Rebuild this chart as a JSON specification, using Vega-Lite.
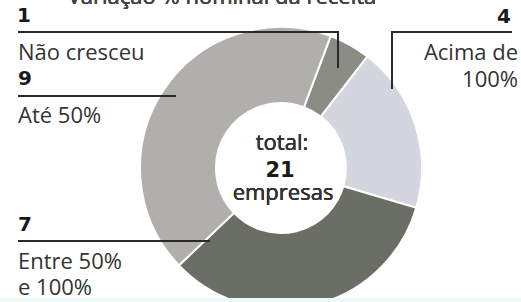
{
  "$schema": "https://vega.github.io/schema/vega-lite/v6.json",
  "width": 521,
  "height": 302,
  "autosize": {"type": "none"},
  "padding": 0,
  "background": "white",
  "view": {"stroke": null},
  "config": {"text": {"font": "Open Sans", "fontWeight": "normal", "color": "#333333"}},
  "datasets": {
    "cats": [
      {"cat": "Não cresceu", "n": 1, "order": 1, "label": ["Não cresceu"]},
      {"cat": "Acima de 100%", "n": 4, "order": 2, "label": ["Acima de", "100%"]},
      {"cat": "Entre 50% e 100%", "n": 7, "order": 3, "label": ["Entre 50%", "e 100%"]},
      {"cat": "Até 50%", "n": 9, "order": 4, "label": ["Até 50%"]}
    ]
  },
  "data": {"name": "cats"},
  "encoding": {
    "x": {"type": "quantitative", "scale": {"domain": [0, 521], "nice": false, "zero": false}, "axis": null},
    "y": {"type": "quantitative", "scale": {"domain": [0, 302], "nice": false, "zero": false, "reverse": true}, "axis": null}
  },
  "layer": [
    {
      "mark": {"type": "arc", "outerRadius": 141, "innerRadius": 65, "stroke": "white", "strokeWidth": 2},
      "encoding": {
        "x": {"datum": 281},
        "y": {"datum": 168},
        "theta": {"field": "n", "type": "quantitative", "stack": true, "scale": {"range": [0.36, 6.6432]}},
        "order": {"field": "order", "type": "quantitative"},
        "color": {"field": "cat", "type": "nominal", "legend": null,
          "scale": {"domain": ["Não cresceu", "Acima de 100%", "Entre 50% e 100%", "Até 50%"],
                    "range": ["#8b8d85", "#d3d6df", "#6b6e65", "#b1afab"]}}
      }
    },
    {
      "mark": {"type": "rect", "color": "#eef9f9"},
      "encoding": {"x": {"datum": 0}, "x2": {"datum": 521}, "y": {"datum": 298}, "y2": {"datum": 302}}
    },
    {
      "mark": {"type": "text", "text": "Variação % nominal da receita", "fontSize": 22, "align": "center", "baseline": "alphabetic", "color": "#444444"},
      "encoding": {"x": {"datum": 222}, "y": {"datum": 4}}
    },
    {
      "mark": {"type": "rule", "color": "#2a2a2a", "strokeWidth": 2},
      "encoding": {"x": {"datum": 18}, "x2": {"datum": 339}, "y": {"datum": 32}, "y2": {"datum": 32}}
    },
    {
      "mark": {"type": "rule", "color": "#2a2a2a", "strokeWidth": 2},
      "encoding": {"x": {"datum": 338}, "x2": {"datum": 338}, "y": {"datum": 31}, "y2": {"datum": 68}}
    },
    {
      "mark": {"type": "rule", "color": "#2a2a2a", "strokeWidth": 2},
      "encoding": {"x": {"datum": 18}, "x2": {"datum": 176}, "y": {"datum": 96}, "y2": {"datum": 96}}
    },
    {
      "mark": {"type": "rule", "color": "#2a2a2a", "strokeWidth": 2},
      "encoding": {"x": {"datum": 391}, "x2": {"datum": 512}, "y": {"datum": 32}, "y2": {"datum": 32}}
    },
    {
      "mark": {"type": "rule", "color": "#2a2a2a", "strokeWidth": 2},
      "encoding": {"x": {"datum": 392}, "x2": {"datum": 392}, "y": {"datum": 31}, "y2": {"datum": 89}}
    },
    {
      "mark": {"type": "rule", "color": "#2a2a2a", "strokeWidth": 2},
      "encoding": {"x": {"datum": 18}, "x2": {"datum": 210}, "y": {"datum": 241}, "y2": {"datum": 241}}
    },
    {
      "transform": [{"filter": "datum.cat == 'Não cresceu'"}],
      "mark": {"type": "text", "font": "DejaVu Sans", "fontWeight": "bold", "fontSize": 20, "align": "left", "baseline": "alphabetic", "color": "#1a1a1a"},
      "encoding": {"x": {"datum": 17}, "y": {"datum": 22}, "text": {"field": "n"}}
    },
    {
      "transform": [{"filter": "datum.cat == 'Não cresceu'"}],
      "mark": {"type": "text", "fontSize": 22, "align": "left", "baseline": "alphabetic"},
      "encoding": {"x": {"datum": 18}, "y": {"datum": 60}, "text": {"field": "label"}}
    },
    {
      "transform": [{"filter": "datum.cat == 'Até 50%'"}],
      "mark": {"type": "text", "font": "DejaVu Sans", "fontWeight": "bold", "fontSize": 20, "align": "left", "baseline": "alphabetic", "color": "#1a1a1a"},
      "encoding": {"x": {"datum": 18}, "y": {"datum": 85}, "text": {"field": "n"}}
    },
    {
      "transform": [{"filter": "datum.cat == 'Até 50%'"}],
      "mark": {"type": "text", "fontSize": 22, "align": "left", "baseline": "alphabetic"},
      "encoding": {"x": {"datum": 18}, "y": {"datum": 123}, "text": {"field": "label"}}
    },
    {
      "transform": [{"filter": "datum.cat == 'Acima de 100%'"}],
      "mark": {"type": "text", "font": "DejaVu Sans", "fontWeight": "bold", "fontSize": 20, "align": "right", "baseline": "alphabetic", "color": "#1a1a1a"},
      "encoding": {"x": {"datum": 511}, "y": {"datum": 23}, "text": {"field": "n"}}
    },
    {
      "transform": [{"filter": "datum.cat == 'Acima de 100%'"}],
      "mark": {"type": "text", "fontSize": 22, "align": "right", "baseline": "alphabetic", "lineHeight": 27},
      "encoding": {"x": {"datum": 518}, "y": {"datum": 60}, "text": {"field": "label"}}
    },
    {
      "transform": [{"filter": "datum.cat == 'Entre 50% e 100%'"}],
      "mark": {"type": "text", "font": "DejaVu Sans", "fontWeight": "bold", "fontSize": 20, "align": "left", "baseline": "alphabetic", "color": "#1a1a1a"},
      "encoding": {"x": {"datum": 18}, "y": {"datum": 231}, "text": {"field": "n"}}
    },
    {
      "transform": [{"filter": "datum.cat == 'Entre 50% e 100%'"}],
      "mark": {"type": "text", "fontSize": 22, "align": "left", "baseline": "alphabetic", "lineHeight": 26},
      "encoding": {"x": {"datum": 18}, "y": {"datum": 269}, "text": {"field": "label"}}
    },
    {
      "mark": {"type": "text", "text": "total:", "fontSize": 22, "align": "center", "baseline": "alphabetic"},
      "encoding": {"x": {"datum": 282}, "y": {"datum": 150}}
    },
    {
      "transform": [{"aggregate": [{"op": "sum", "field": "n", "as": "total"}]}],
      "mark": {"type": "text", "font": "DejaVu Sans", "fontWeight": "bold", "fontSize": 21, "align": "center", "baseline": "alphabetic", "color": "#1a1a1a"},
      "encoding": {"x": {"datum": 280}, "y": {"datum": 177}, "text": {"field": "total"}}
    },
    {
      "mark": {"type": "text", "text": "empresas", "fontSize": 22, "align": "center", "baseline": "alphabetic"},
      "encoding": {"x": {"datum": 283}, "y": {"datum": 200}}
    }
  ]
}
